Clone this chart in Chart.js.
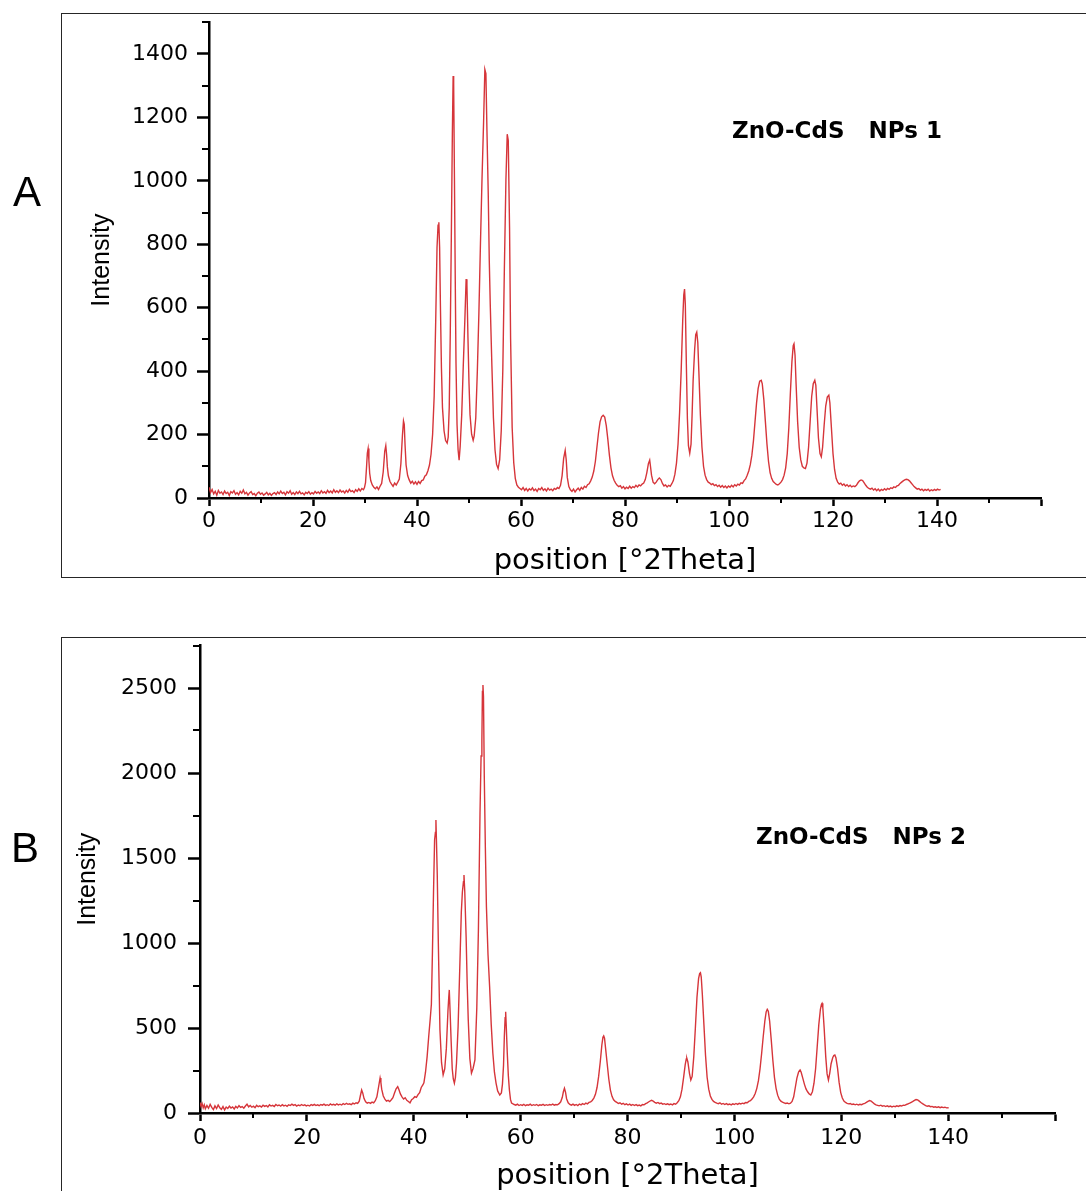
<!DOCTYPE html>
<html>
<head>
<meta charset="utf-8">
<title>ZnO-CdS NPs XRD</title>
<script src="https://cdn.jsdelivr.net/npm/chart.js@4.4.1/dist/chart.umd.min.js"></script>
<style>
  html, body { margin: 0; padding: 0; background: #fff; overflow: hidden; }
  body { position: relative; width: 1086px; height: 1191px; }
  .frame { position: absolute; border: 1.5px solid #262626; box-sizing: border-box; }
  #frameA { left: 61px; top: 13px; width: 1060px; height: 565px; }
  #frameB { left: 61px; top: 637px; width: 1060px; height: 600px; }
  .letter { position: absolute; font: 42px "Liberation Sans", Arial, sans-serif; line-height: 42px; color: #000; }
  .sample { position: absolute; font: bold 23px "DejaVu Sans", sans-serif; line-height: 23px; white-space: pre; color: #000; }
  canvas { position: absolute; left: 0; }
  #chartA { top: 0; }
  #chartB { top: 620px; }
</style>
</head>
<body>
<div class="frame" id="frameA"></div>
<div class="frame" id="frameB"></div>
<canvas id="chartA" width="1086" height="600"></canvas>
<canvas id="chartB" width="1086" height="600"></canvas>
<div class="letter" style="left:13px; top:171px;">A</div>
<div class="letter" style="left:11px; top:827px;">B</div>
<div class="sample" style="left:732px; top:119px;">ZnO-CdS   NPs 1</div>
<div class="sample" style="left:756px; top:825px;">ZnO-CdS   NPs 2</div>
<script>
// ---- axis ticks ----
const xMajor = [0, 20, 40, 60, 80, 100, 120, 140, 160];
const xTickLabels = ['0', '20', '40', '60', '80', '100', '120', '140', ''];
const xMinor = [10, 30, 50, 70, 90, 110, 130, 150];

const yMajorA = [0, 200, 400, 600, 800, 1000, 1200, 1400];
const yMinorA = [100, 300, 500, 700, 900, 1100, 1300, 1500];
const yMajorB = [0, 500, 1000, 1500, 2000, 2500];
const yMinorB = [250, 750, 1250, 1750, 2250, 2750];

// ---- scan 1: [2theta, counts] ----
const scanA = [
  [0,34],[0.3,17],[0.6,27],[0.9,13],[1.2,21],[1.5,9],[1.8,24],[2.1,15],[2.4,19],[2.7,11],
  [3.0,22],[3.3,14],[3.6,18],[3.9,8],[4.2,20],[4.5,16],[4.8,23],[5.1,12],[5.4,17],[5.7,10],
  [6.0,21],[6.3,15],[6.6,25],[6.9,13],[7.2,18],[7.5,9],[7.8,16],[8.1,20],[8.4,11],[8.7,14],
  [9.0,7],[9.3,15],[9.6,19],[9.9,12],[10.2,16],[10.5,9],[10.8,13],[11.1,18],[11.4,10],[11.7,15],
  [12.0,8],[12.3,14],[12.6,17],[12.9,11],[13.2,19],[13.5,13],[13.8,22],[14.1,14],[14.4,18],[14.7,10],
  [15.0,20],[15.3,15],[15.6,23],[15.9,12],[16.2,17],[16.5,11],[16.8,19],[17.1,14],[17.4,21],[17.7,13],
  [18.0,16],[18.3,10],[18.6,18],[18.9,14],[19.2,20],[19.5,12],[19.8,17],[20.1,13],[20.4,21],[20.7,15],
  [21.0,19],[21.3,14],[21.6,23],[21.9,16],[22.2,20],[22.5,15],[22.8,24],[23.1,17],[23.4,22],[23.7,16],
  [24.0,26],[24.3,18],[24.6,23],[24.9,17],[25.2,25],[25.5,19],[25.8,22],[26.1,16],[26.4,24],[26.7,18],
  [27.0,27],[27.3,20],[27.6,23],[27.9,17],[28.2,26],[28.5,21],[28.8,29],[29.1,22],[29.4,30],[29.7,26],
  [29.9,33],[30.1,48],[30.3,98],[30.45,142],[30.6,156],[30.75,118],[30.9,78],[31.1,55],[31.4,41],[31.7,34],
  [32.0,29],[32.3,35],[32.6,27],[32.9,37],[33.2,46],[33.5,82],[33.8,148],[34.0,165],[34.15,138],[34.3,98],
  [34.5,70],[34.8,52],[35.1,44],[35.4,37],[35.7,47],[36.0,41],[36.3,50],[36.6,60],[36.9,108],[37.2,198],
  [37.4,243],[37.55,232],[37.7,168],[37.9,104],[38.2,71],[38.5,57],[38.8,47],[39.1,53],[39.4,44],[39.7,51],
  [40.0,43],[40.3,52],[40.6,46],[40.9,55],[41.2,57],[41.5,69],[41.8,73],[42.1,86],[42.4,104],[42.7,138],
  [43.0,200],[43.3,320],[43.6,560],[43.85,790],[44.05,860],[44.2,869],[44.35,790],[44.5,610],[44.7,410],[44.9,285],
  [45.2,212],[45.5,181],[45.8,173],[46.0,192],[46.2,285],[46.4,520],[46.6,822],[46.8,1150],[46.95,1330],[47.05,1305],
  [47.2,1010],[47.35,700],[47.5,425],[47.7,232],[47.9,152],[48.1,119],[48.3,162],[48.6,262],[48.9,418],[49.2,560],
  [49.45,690],[49.6,672],[49.8,505],[50.0,362],[50.2,262],[50.5,201],[50.8,182],[51.0,196],[51.3,252],[51.6,398],
  [51.9,582],[52.2,800],[52.5,1005],[52.8,1182],[53.05,1351],[53.25,1338],[53.45,1160],[53.7,960],[53.9,748],[54.1,602],
  [54.4,418],[54.7,252],[55.0,152],[55.3,106],[55.6,93],[55.9,121],[56.2,212],[56.5,402],[56.8,722],[57.1,1002],
  [57.35,1147],[57.55,1128],[57.8,850],[58.0,502],[58.3,222],[58.6,112],[58.9,62],[59.2,41],[59.5,34],[59.8,30],
  [60.1,26],[60.4,33],[60.7,24],[61.0,30],[61.3,22],[61.6,29],[61.9,25],[62.2,32],[62.5,23],[62.8,28],
  [63.1,21],[63.4,30],[63.7,26],[64.0,33],[64.3,24],[64.6,29],[64.9,22],[65.2,31],[65.5,25],[65.8,28],
  [66.1,23],[66.4,30],[66.7,27],[67.0,33],[67.3,30],[67.6,40],[67.9,70],[68.2,125],[68.5,150],[68.7,120],
  [68.9,65],[69.2,36],[69.5,26],[69.8,21],[70.1,28],[70.4,19],[70.7,26],[71.0,31],[71.3,24],[71.6,33],
  [71.9,28],[72.2,37],[72.5,33],[72.8,42],[73.1,45],[73.4,54],[73.7,66],[74.0,85],[74.3,115],[74.6,160],
  [74.9,205],[75.2,240],[75.5,256],[75.8,261],[76.1,255],[76.4,228],[76.7,185],[77.0,135],[77.3,95],[77.6,70],
  [77.9,56],[78.2,47],[78.5,40],[78.8,36],[79.1,39],[79.4,31],[79.7,36],[80.0,29],[80.3,34],[80.6,30],
  [80.9,37],[81.2,31],[81.5,36],[81.8,33],[82.1,40],[82.4,35],[82.7,41],[83.0,38],[83.3,44],[83.6,47],
  [83.9,58],[84.2,80],[84.5,108],[84.75,119],[84.9,100],[85.1,72],[85.4,50],[85.7,45],[86.0,50],[86.3,58],
  [86.6,63],[86.9,58],[87.2,46],[87.5,38],[87.8,41],[88.1,35],[88.4,40],[88.7,37],[89.0,45],[89.3,55],
  [89.6,75],[89.9,110],[90.2,170],[90.5,270],[90.8,400],[91.1,560],[91.3,640],[91.45,659],[91.6,610],[91.8,420],
  [92.0,250],[92.2,165],[92.45,141],[92.7,170],[92.9,260],[93.1,370],[93.4,470],[93.6,515],[93.8,523],[94.0,490],
  [94.2,400],[94.5,260],[94.8,160],[95.1,100],[95.4,72],[95.7,58],[96.0,50],[96.3,47],[96.6,42],[96.9,45],
  [97.2,39],[97.5,42],[97.8,36],[98.1,40],[98.4,34],[98.7,39],[99.0,33],[99.3,38],[99.6,32],[99.9,38],
  [100.2,34],[100.5,40],[100.8,35],[101.1,42],[101.4,38],[101.7,44],[102.0,41],[102.3,48],[102.6,46],[102.9,55],
  [103.2,60],[103.5,72],[103.8,85],[104.1,105],[104.4,135],[104.7,180],[105.0,240],[105.3,300],[105.6,345],[105.9,368],
  [106.2,371],[106.4,360],[106.7,310],[107.0,240],[107.3,170],[107.6,115],[107.9,80],[108.2,62],[108.5,52],[108.8,47],
  [109.1,43],[109.4,41],[109.7,45],[110.0,50],[110.3,58],[110.6,72],[110.9,95],[111.2,140],[111.5,220],[111.8,330],
  [112.1,430],[112.35,480],[112.5,486],[112.7,450],[112.9,360],[113.2,240],[113.5,160],[113.8,120],[114.1,100],[114.4,95],
  [114.7,93],[115.0,110],[115.3,160],[115.6,240],[115.9,320],[116.2,360],[116.5,371],[116.7,355],[116.9,290],[117.2,190],
  [117.5,140],[117.75,130],[118.0,160],[118.3,230],[118.6,290],[118.9,318],[119.2,324],[119.4,300],[119.7,220],[120.0,140],
  [120.3,90],[120.6,62],[120.9,50],[121.2,44],[121.5,47],[121.8,40],[122.1,44],[122.4,38],[122.7,42],[123.0,36],
  [123.3,40],[123.6,35],[123.9,38],[124.2,36],[124.5,40],[124.8,48],[125.1,54],[125.4,57],[125.7,55],[126.0,48],
  [126.3,40],[126.6,34],[126.9,30],[127.2,28],[127.5,31],[127.8,25],[128.1,29],[128.4,23],[128.7,28],[129.0,22],
  [129.3,27],[129.6,24],[129.9,29],[130.2,25],[130.5,30],[130.8,27],[131.1,32],[131.4,30],[131.7,35],[132.0,33],
  [132.3,38],[132.6,40],[132.9,46],[133.2,50],[133.5,54],[133.8,57],[134.1,59],[134.4,58],[134.7,54],[135.0,48],
  [135.3,42],[135.6,36],[135.9,32],[136.2,28],[136.5,30],[136.8,25],[137.1,28],[137.4,23],[137.7,27],[138.0,24],
  [138.3,28],[138.6,22],[138.9,26],[139.2,23],[139.5,27],[139.8,24],[140.1,28],[140.4,25],[140.7,27]
];

// ---- scan 2: [2theta, counts] ----
const scanB = [
  [0,62],[0.2,38],[0.4,55],[0.6,30],[0.8,48],[1.0,25],[1.3,44],[1.6,28],[1.9,51],[2.2,33],
  [2.5,20],[2.8,42],[3.1,26],[3.4,47],[3.7,31],[4.0,22],[4.3,38],[4.6,18],[4.9,35],[5.2,27],
  [5.5,40],[5.8,29],[6.1,36],[6.4,24],[6.7,39],[7.0,30],[7.3,43],[7.6,33],[7.9,38],[8.2,28],
  [8.5,41],[8.8,52],[9.1,36],[9.4,44],[9.7,34],[10.0,40],[10.3,31],[10.6,45],[10.9,37],[11.2,42],
  [11.5,35],[11.8,46],[12.1,39],[12.4,44],[12.7,36],[13.0,48],[13.3,41],[13.6,45],[13.9,38],[14.2,50],
  [14.5,43],[14.8,47],[15.1,40],[15.4,49],[15.7,42],[16.0,46],[16.3,39],[16.6,48],[16.9,44],[17.2,52],
  [17.5,45],[17.8,49],[18.1,41],[18.4,47],[18.7,43],[19.0,50],[19.3,44],[19.6,48],[19.9,42],[20.2,46],
  [20.5,41],[20.8,49],[21.1,45],[21.4,51],[21.7,44],[22.0,48],[22.3,43],[22.6,50],[22.9,46],[23.2,52],
  [23.5,45],[23.8,49],[24.1,44],[24.4,53],[24.7,47],[25.0,51],[25.3,46],[25.6,54],[25.9,48],[26.2,52],
  [26.5,47],[26.8,55],[27.1,50],[27.4,57],[27.7,51],[28.0,54],[28.3,49],[28.6,58],[28.9,53],[29.2,60],
  [29.5,56],[29.8,70],[30.0,100],[30.25,135],[30.45,118],[30.7,85],[31.0,66],[31.3,58],[31.6,62],[31.9,57],
  [32.2,64],[32.5,60],[32.8,72],[33.1,95],[33.4,150],[33.7,206],[33.85,180],[34.0,140],[34.3,100],[34.6,82],
  [34.9,70],[35.2,74],[35.5,67],[35.8,78],[36.1,90],[36.4,118],[36.7,142],[37.0,155],[37.2,140],[37.5,112],
  [37.8,95],[38.1,82],[38.4,90],[38.7,75],[39.0,68],[39.3,60],[39.6,78],[39.9,85],[40.2,96],[40.5,92],
  [40.8,108],[41.1,120],[41.4,150],[41.7,165],[41.9,178],[42.2,240],[42.5,330],[42.8,450],[43.1,560],[43.3,640],
  [43.5,950],[43.7,1300],[43.9,1606],[44.05,1650],[44.15,1724],[44.25,1600],[44.4,1400],[44.6,1000],[44.9,490],[45.2,296],
  [45.5,224],[45.8,260],[46.1,380],[46.4,600],[46.55,680],[46.65,724],[46.8,598],[47.0,420],[47.2,260],[47.4,200],
  [47.6,175],[47.8,210],[48.0,294],[48.3,508],[48.6,840],[48.9,1180],[49.1,1300],[49.3,1360],[49.4,1400],[49.55,1300],
  [49.8,1037],[50.0,760],[50.2,547],[50.5,320],[50.8,235],[51.1,262],[51.45,312],[51.8,620],[52.1,1076],[52.4,1765],
  [52.6,2100],[52.75,2194],[52.85,2480],[52.95,2518],[53.05,2450],[53.2,1978],[53.4,1560],[53.6,1214],[53.9,930],[54.2,743],
  [54.5,520],[54.8,353],[55.1,240],[55.4,176],[55.7,130],[56.1,106],[56.4,118],[56.6,170],[56.8,280],[56.95,449],
  [57.1,560],[57.2,596],[57.3,520],[57.5,353],[57.7,220],[57.9,135],[58.1,80],[58.3,59],[58.5,55],[58.8,50],
  [59.1,46],[59.4,52],[59.7,44],[60.0,49],[60.3,45],[60.6,51],[60.9,43],[61.2,48],[61.5,46],[61.8,52],
  [62.1,44],[62.4,49],[62.7,45],[63.0,50],[63.3,43],[63.6,48],[63.9,46],[64.2,51],[64.5,44],[64.8,49],
  [65.1,45],[65.4,50],[65.7,47],[66.0,52],[66.3,46],[66.6,50],[66.9,48],[67.2,55],[67.5,66],[67.8,92],
  [68.0,125],[68.2,145],[68.4,122],[68.6,84],[68.9,60],[69.2,50],[69.5,46],[69.8,52],[70.1,45],[70.4,50],
  [70.7,44],[71.0,53],[71.3,48],[71.6,55],[71.9,50],[72.2,58],[72.5,54],[72.8,62],[73.1,66],[73.4,74],
  [73.7,88],[74.0,110],[74.3,150],[74.6,215],[74.9,300],[75.2,400],[75.4,445],[75.55,453],[75.7,440],[75.9,380],
  [76.2,290],[76.5,200],[76.8,135],[77.1,98],[77.4,78],[77.7,68],[78.0,62],[78.3,56],[78.6,60],[78.9,52],
  [79.2,57],[79.5,49],[79.8,54],[80.1,47],[80.4,52],[80.7,45],[81.0,50],[81.3,44],[81.6,49],[81.9,43],
  [82.2,47],[82.5,42],[82.8,50],[83.1,48],[83.4,55],[83.7,60],[84.0,66],[84.3,72],[84.5,75],[84.8,70],
  [85.1,63],[85.4,58],[85.7,62],[86.0,55],[86.3,58],[86.6,52],[86.9,55],[87.2,50],[87.5,54],[87.8,49],
  [88.1,53],[88.4,48],[88.7,55],[89.0,52],[89.3,60],[89.6,72],[89.9,95],[90.2,140],[90.5,210],[90.8,285],
  [91.0,318],[91.1,322],[91.3,300],[91.6,232],[91.85,194],[92.1,215],[92.4,330],[92.7,500],[93.0,680],[93.3,790],
  [93.5,820],[93.65,825],[93.8,800],[94.0,700],[94.3,520],[94.6,340],[94.9,210],[95.2,140],[95.5,100],[95.8,80],
  [96.1,68],[96.4,62],[96.7,58],[97.0,55],[97.3,60],[97.6,52],[97.9,56],[98.2,50],[98.5,55],[98.8,49],
  [99.1,53],[99.4,48],[99.7,54],[100.0,50],[100.3,56],[100.6,51],[100.9,57],[101.2,53],[101.5,58],[101.8,55],
  [102.1,62],[102.4,60],[102.7,68],[103.0,72],[103.3,82],[103.6,95],[103.9,115],[104.2,145],[104.5,190],[104.8,260],
  [105.1,350],[105.4,450],[105.7,540],[105.95,595],[106.15,610],[106.35,598],[106.6,540],[106.9,430],[107.2,310],[107.5,210],
  [107.8,145],[108.1,105],[108.4,82],[108.7,70],[109.0,64],[109.3,60],[109.6,56],[109.9,59],[110.2,54],[110.5,58],
  [110.8,68],[111.1,95],[111.4,150],[111.7,205],[112.0,240],[112.2,250],[112.3,253],[112.5,240],[112.8,205],[113.1,170],
  [113.4,142],[113.7,125],[114.0,112],[114.3,106],[114.6,125],[114.9,175],[115.2,260],[115.5,390],[115.8,520],[116.1,610],
  [116.3,640],[116.4,645],[116.55,620],[116.8,500],[117.1,330],[117.35,230],[117.6,194],[117.85,235],[118.1,290],[118.4,325],
  [118.6,338],[118.8,341],[119.0,325],[119.3,265],[119.6,180],[119.9,120],[120.2,88],[120.5,70],[120.8,62],[121.1,57],
  [121.4,54],[121.7,56],[122.0,50],[122.3,53],[122.6,48],[122.9,52],[123.2,47],[123.5,51],[123.8,49],[124.1,54],
  [124.4,57],[124.7,62],[125.0,68],[125.3,73],[125.6,70],[125.9,62],[126.2,54],[126.5,48],[126.8,45],[127.1,42],
  [127.4,46],[127.7,40],[128.0,43],[128.3,38],[128.6,42],[128.9,37],[129.2,41],[129.5,36],[129.8,40],[130.1,37],
  [130.4,42],[130.7,39],[131.0,44],[131.3,41],[131.6,46],[131.9,45],[132.2,50],[132.5,54],[132.8,58],[133.1,63],
  [133.4,68],[133.7,74],[134.0,79],[134.3,77],[134.6,70],[134.9,62],[135.2,55],[135.5,49],[135.8,44],[136.1,40],
  [136.4,42],[136.7,37],[137.0,39],[137.3,34],[137.6,37],[137.9,33],[138.2,36],[138.5,31],[138.8,35],[139.1,32],
  [139.4,34],[139.7,30],[140.1,31]
];

Chart.defaults.font.family = "'DejaVu Sans', sans-serif";
Chart.defaults.color = '#000';

// short unlabeled ticks between the major ones
const minorTicks = {
  id: 'minorTicks',
  afterDraw(chart, args, opts) {
    const { ctx, chartArea, scales: { x, y } } = chart;
    ctx.save();
    ctx.strokeStyle = '#000';
    ctx.lineWidth = 2;
    ctx.beginPath();
    opts.x.forEach(v => {
      const px = Math.round(x.getPixelForValue(v));
      ctx.moveTo(px, chartArea.bottom);
      ctx.lineTo(px, chartArea.bottom + 5);
    });
    opts.y.forEach(v => {
      const py = Math.round(y.getPixelForValue(v));
      ctx.moveTo(chartArea.left, py);
      ctx.lineTo(chartArea.left - 7, py);
    });
    ctx.stroke();
    ctx.restore();
  }
};

function drawPattern(id, scan, c) {
  return new Chart(document.getElementById(id), {
    type: 'line',
    data: {
      datasets: [{
        data: scan.map(([x, y]) => ({ x, y })),
        borderColor: '#d6353a',
        borderWidth: 1.4,
        pointRadius: 0,
        tension: 0
      }]
    },
    options: {
      responsive: false,
      animation: false,
      events: [],
      layout: { padding: { top: c.top, right: c.right, left: 0, bottom: 0 } },
      plugins: {
        legend: { display: false },
        tooltip: { enabled: false },
        minorTicks: { x: xMinor, y: c.yMinor }
      },
      scales: {
        x: {
          type: 'linear', min: 0, max: 160,
          afterBuildTicks: s => { s.ticks = xMajor.map(value => ({ value })); },
          afterFit: s => { s.height = c.xHeight; },
          ticks: { callback: (v, i) => xTickLabels[i], padding: c.xPad, font: { size: 22 }, maxRotation: 0, autoSkip: false },
          grid: { drawOnChartArea: false, tickLength: 8, tickWidth: 2.5, tickColor: '#000' },
          border: { color: '#000', width: 2.5 },
          title: { display: true, text: 'position [°2Theta]', font: { size: 29 }, padding: { top: 0, bottom: c.titlePad } }
        },
        y: {
          type: 'linear', min: 0, max: c.yMax,
          afterBuildTicks: s => { s.ticks = c.yMajor.map(value => ({ value })); },
          afterFit: s => { s.width = c.yWidth; },
          ticks: { callback: v => String(v), padding: c.yPad, font: { size: 22 }, autoSkip: false },
          grid: { drawOnChartArea: false, tickLength: 12, tickWidth: 2.5, tickColor: '#000' },
          border: { color: '#000', width: 2.5 },
          title: {
            display: true, text: 'Intensity',
            font: { family: "'Liberation Sans Narrow', 'Liberation Sans', sans-serif", size: 25 },
            padding: { top: c.yTitlePad, bottom: 0 }
          }
        }
      }
    },
    plugins: [minorTicks]
  });
}

drawPattern('chartA', scanA, {
  yMax: 1500, yMajor: yMajorA, yMinor: yMinorA,
  top: 21, right: 45, xHeight: 102, yWidth: 209,
  xPad: 2, yPad: 9, titlePad: 21, yTitlePad: 87
});

drawPattern('chartB', scanB, {
  yMax: 2750, yMajor: yMajorB, yMinor: yMinorB,
  top: 25.5, right: 31, xHeight: 107, yWidth: 200,
  xPad: 4, yPad: 11, titlePad: 26, yTitlePad: 73
});
</script>
</body>
</html>
